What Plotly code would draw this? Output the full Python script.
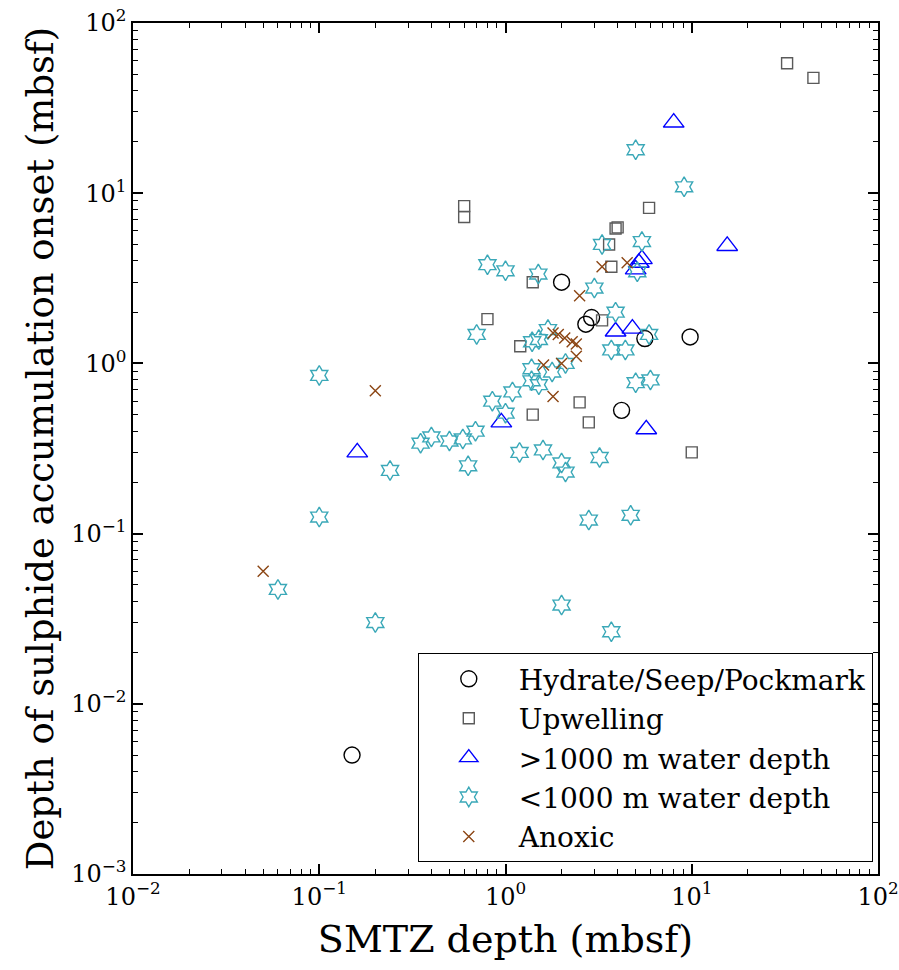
import plotly.graph_objects as go

# Hydrate/Seep/Pockmark
hyd_x = [0.15, 2.0, 2.9, 2.7, 5.6, 9.8, 4.2]
hyd_y = [0.005, 3.0, 1.86, 1.7, 1.4, 1.43, 0.53]

# Upwelling
upw_x = [32.5, 45, 0.6, 0.6, 5.9, 3.9, 4.0, 3.6, 3.7, 1.4, 0.8, 1.2, 3.3, 2.5, 1.4, 2.8, 10.0]
upw_y = [58, 47.6, 8.4, 7.25, 8.2, 6.2, 6.3, 5.0, 3.7, 3.0, 1.82, 1.26, 1.79, 0.59, 0.5, 0.45, 0.3]

# >1000 m water depth
deep_x = [8.0, 15.5, 5.4, 5.2, 5.0, 3.9, 4.8, 5.7, 0.95, 0.16]
deep_y = [26, 4.9, 4.1, 3.9, 3.57, 1.54, 1.6, 0.41, 0.45, 0.30]

# <1000 m water depth
shal_x = [5.0, 9.1, 5.4, 3.3, 5.1, 0.8, 1.0, 1.5, 3.0, 3.9, 0.7, 1.39, 1.51, 1.69,
          5.9, 3.7, 4.4, 1.38, 1.78, 2.1, 1.38, 1.51, 1.09, 0.1, 0.85, 1.0, 5.0, 6.0,
          0.35, 0.4, 0.5, 0.59, 0.69, 0.24, 0.63, 1.19, 1.59, 2.0, 2.1, 3.2, 2.8, 4.7,
          0.1, 0.06, 0.2, 2.0, 3.7]
shal_y = [18, 10.9, 5.2, 5.0, 3.45, 3.8, 3.5, 3.35, 2.77, 2.0, 1.48, 1.34, 1.38, 1.58,
          1.48, 1.2, 1.2, 0.93, 0.89, 1.0, 0.79, 0.75, 0.68, 0.85, 0.6, 0.51, 0.77, 0.8,
          0.34, 0.37, 0.35, 0.36, 0.4, 0.235, 0.25, 0.3, 0.31, 0.26, 0.23, 0.28, 0.12, 0.128,
          0.125, 0.047, 0.03, 0.038, 0.0265]

# Anoxic
anx_x = [0.05, 0.2, 3.3, 4.5, 2.5, 1.8, 1.92, 2.08, 2.28, 2.4, 2.4, 1.6, 2.0, 1.8]
anx_y = [0.06, 0.69, 3.7, 3.9, 2.5, 1.51, 1.48, 1.41, 1.34, 1.3, 1.1, 0.98, 1.0, 0.64]

series_names = ["Hydrate/Seep/Pockmark", "Upwelling", ">1000 m water depth",
                "<1000 m water depth", "Anoxic"]

x_tick_vals = [0.01, 0.1, 1, 10, 100]
x_tick_text = ["10<sup>\u22122</sup>", "10<sup>\u22121</sup>", "10<sup>0</sup>",
               "10<sup>1</sup>", "10<sup>2</sup>"]
y_tick_vals = [0.001, 0.01, 0.1, 1, 10, 100]
y_tick_text = ["10<sup>\u22123</sup>", "10<sup>\u22122</sup>", "10<sup>\u22121</sup>",
               "10<sup>0</sup>", "10<sup>1</sup>", "10<sup>2</sup>"]

FONT = "DejaVu Serif"

fig = go.Figure()
fig.add_trace(go.Scatter(x=hyd_x, y=hyd_y, mode="markers", name=series_names[0],
                         marker=dict(symbol="circle-open", size=16, color="black",
                                     line=dict(width=1.4, color="black"))))
fig.add_trace(go.Scatter(x=upw_x, y=upw_y, mode="markers", name=series_names[1],
                         marker=dict(symbol="square-open", size=11, color="#5a5a5a",
                                     line=dict(width=1.4, color="#5a5a5a"))))
fig.add_trace(go.Scatter(x=deep_x, y=deep_y, mode="markers", name=series_names[2],
                         marker=dict(symbol="triangle-up-open", size=18, color="#0000ff",
                                     line=dict(width=1.4, color="#0000ff"))))
fig.add_trace(go.Scatter(x=shal_x, y=shal_y, mode="markers", name=series_names[3],
                         marker=dict(symbol="hexagram-open", size=15, color="#3aa8b8",
                                     line=dict(width=1.4, color="#3aa8b8"))))
fig.add_trace(go.Scatter(x=anx_x, y=anx_y, mode="markers", name=series_names[4],
                         marker=dict(symbol="x-thin-open", size=11, color="#8b4513",
                                     line=dict(width=1.4, color="#8b4513"))))

axis_common = dict(
    type="log", showgrid=False, zeroline=False, automargin=False,
    showline=True, linecolor="black", linewidth=1.5, mirror="ticks",
    ticks="inside", ticklen=10, tickwidth=1.5, tickcolor="black",
    tickfont=dict(family=FONT, size=24, color="black"),
    minor=dict(ticks="inside", ticklen=5, tickwidth=1, tickcolor="black", dtick="D1", showgrid=False),
)

fig.update_xaxes(range=[-2, 2], tickmode="array", tickvals=x_tick_vals, ticktext=x_tick_text,
                 title=dict(text="SMTZ depth (mbsf)",
                            font=dict(family=FONT, size=38, color="black"), standoff=16),
                 **axis_common)
fig.update_yaxes(range=[-3, 2], tickmode="array", tickvals=y_tick_vals, ticktext=y_tick_text,
                 title=dict(text="Depth of sulphide accumulation onset (mbsf)",
                            font=dict(family=FONT, size=37, color="black"), standoff=6),
                 **axis_common)

fig.update_layout(
    width=899, height=970,
    margin=dict(l=133, r=21, t=23, b=96),
    paper_bgcolor="white", plot_bgcolor="white",
    font=dict(family=FONT, color="black"),
    legend=dict(x=0.993, y=0.014, xanchor="right", yanchor="bottom",
                bordercolor="black", borderwidth=1, bgcolor="white",
                font=dict(family=FONT, size=28, color="black"),
                itemwidth=90),
)

fig.write_html("out.html")
